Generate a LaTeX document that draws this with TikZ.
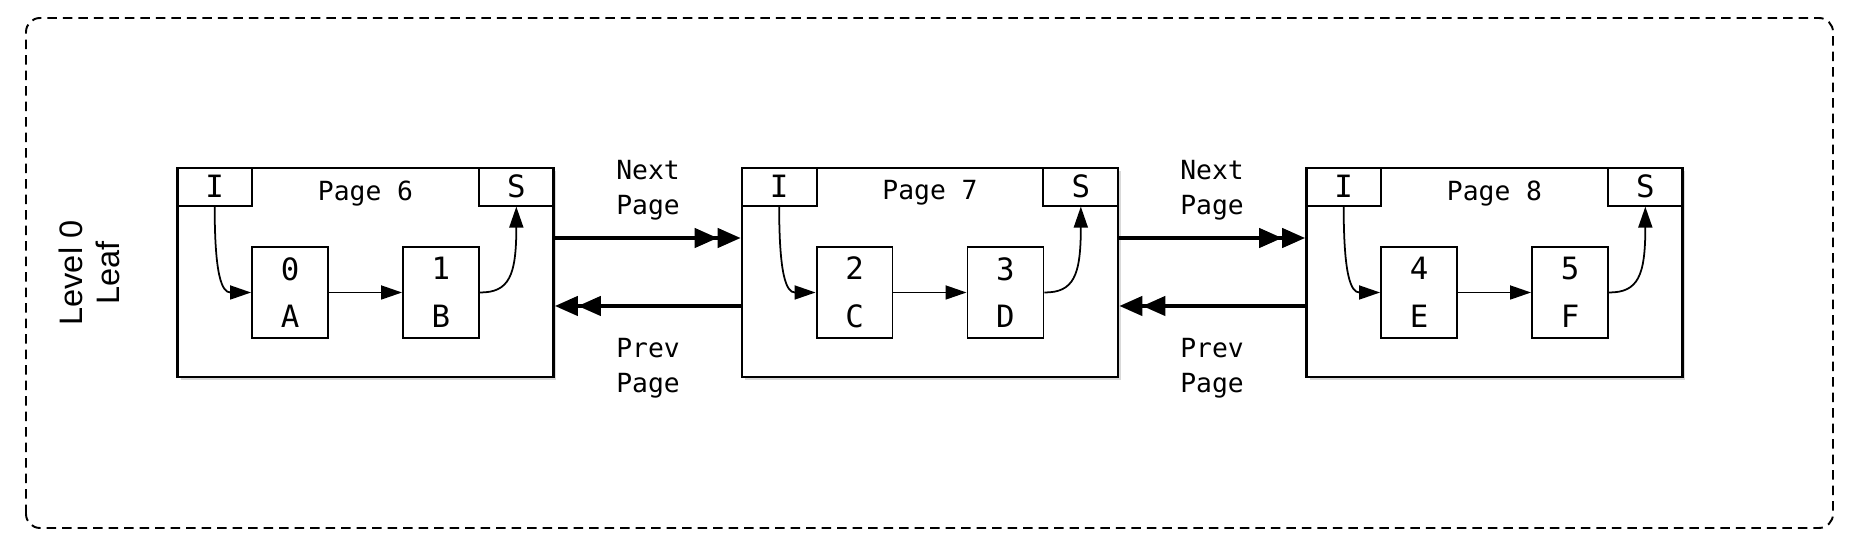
\documentclass[tikz,border=0pt]{standalone}
\usepackage{fontspec}
\setmainfont{Liberation Sans}
\setmonofont{DejaVu Sans Mono}
\usetikzlibrary{arrows.meta, positioning, shadows}
\newcommand{\bigmono}{\ttfamily\fontsize{17.5}{27}\selectfont}
\newcommand{\smallmono}{\ttfamily\fontsize{15}{20}\selectfont}
\newcommand{\sidefont}{\fontsize{18.5}{21}\selectfont}

\begin{document}
\begin{tikzpicture}[x=0.02cm, y=0.02cm,
    frame/.style={draw, line width=1.1pt, rounded corners=0.28cm,
                  dash pattern=on 0.19cm off 0.12cm},
    page/.style={rectangle, draw, line width=1.5pt, fill=white,
                 minimum width=7.52cm, minimum height=4.18cm,
                 drop shadow={opacity=0.3, shadow xshift=0.06cm, shadow yshift=-0.06cm}},
    hdr/.style={rectangle, draw, line width=1.1pt, inner sep=0pt,
                minimum width=1.5cm, minimum height=0.76cm, font=\bigmono},
    cell/.style={rectangle, draw, line width=1.1pt, align=center,
                 minimum width=1.52cm, minimum height=1.82cm, font=\bigmono},
    title/.style={font=\smallmono},
    lbl/.style={align=center, font=\smallmono},
    side/.style={align=center, rotate=90, font=\sidefont},
    link/.style={-{Triangle[length=0.42cm, width=0.28cm]}, line width=1pt},
    hop/.style={-{Triangle[length=0.46cm, width=0.38cm] Triangle[length=0.46cm, width=0.38cm]},
                line width=2.3pt}
  ]
  \useasboundingbox (0,0) rectangle (1852,551);
  \draw[frame] (26,23) rectangle (1833,533);
  \node[side] (level) at (89,278) {Level 0\\Leaf};

  % Page 6
  \node[page] (page6) at (365.5,278.5) {};
  \node[hdr, anchor=north west] (in6) at (page6.north west) {I};
  \node[hdr, anchor=north east] (sp6) at (page6.north east) {S};
  \node[title] (title6) at ([yshift=-0.53cm]page6.north) {Page 6};
  \node[cell] (cell0) at ([xshift=-1.51cm, yshift=-0.4cm]page6.center) {0\\A};
  \node[cell] (cell1) at ([xshift=1.51cm, yshift=-0.4cm]page6.center) {1\\B};
  \draw[link] (in6.south) to[out=-90, in=180, out looseness=1.9, in looseness=0.8] (cell0.west);
  \draw[link] (cell0) -- (cell1);
  \draw[link] (cell1.east) to[out=0, in=-90, out looseness=0.8, in looseness=1.9] (sp6.south);

  % Page 7
  \node[page] (page7) at (930,278.5) {};
  \node[hdr, anchor=north west] (in7) at (page7.north west) {I};
  \node[hdr, anchor=north east] (sp7) at (page7.north east) {S};
  \node[title] (title7) at ([yshift=-0.53cm]page7.north) {Page 7};
  \node[cell] (cell2) at ([xshift=-1.51cm, yshift=-0.4cm]page7.center) {2\\C};
  \node[cell] (cell3) at ([xshift=1.51cm, yshift=-0.4cm]page7.center) {3\\D};
  \draw[link] (in7.south) to[out=-90, in=180, out looseness=1.9, in looseness=0.8] (cell2.west);
  \draw[link] (cell2) -- (cell3);
  \draw[link] (cell3.east) to[out=0, in=-90, out looseness=0.8, in looseness=1.9] (sp7.south);

  % Page 8
  \node[page] (page8) at (1494.5,278.5) {};
  \node[hdr, anchor=north west] (in8) at (page8.north west) {I};
  \node[hdr, anchor=north east] (sp8) at (page8.north east) {S};
  \node[title] (title8) at ([yshift=-0.53cm]page8.north) {Page 8};
  \node[cell] (cell4) at ([xshift=-1.51cm, yshift=-0.4cm]page8.center) {4\\E};
  \node[cell] (cell5) at ([xshift=1.51cm, yshift=-0.4cm]page8.center) {5\\F};
  \draw[link] (in8.south) to[out=-90, in=180, out looseness=1.9, in looseness=0.8] (cell4.west);
  \draw[link] (cell4) -- (cell5);
  \draw[link] (cell5.east) to[out=0, in=-90, out looseness=0.8, in looseness=1.9] (sp8.south);

  % sibling links
  \draw[hop] ([yshift=0.69cm]page6.east) -- ([yshift=0.69cm]page7.west);
  \draw[hop] ([yshift=-0.67cm]page7.west) -- ([yshift=-0.67cm]page6.east);
  \draw[hop] ([yshift=0.69cm]page7.east) -- ([yshift=0.69cm]page8.west);
  \draw[hop] ([yshift=-0.67cm]page8.west) -- ([yshift=-0.67cm]page7.east);
  \node[lbl] (next67) at (648,361) {Next\\Page};
  \node[lbl] (prev67) at (648,183) {Prev\\Page};
  \node[lbl] (next78) at (1212,361) {Next\\Page};
  \node[lbl] (prev78) at (1212,183) {Prev\\Page};
\end{tikzpicture}
\end{document}
